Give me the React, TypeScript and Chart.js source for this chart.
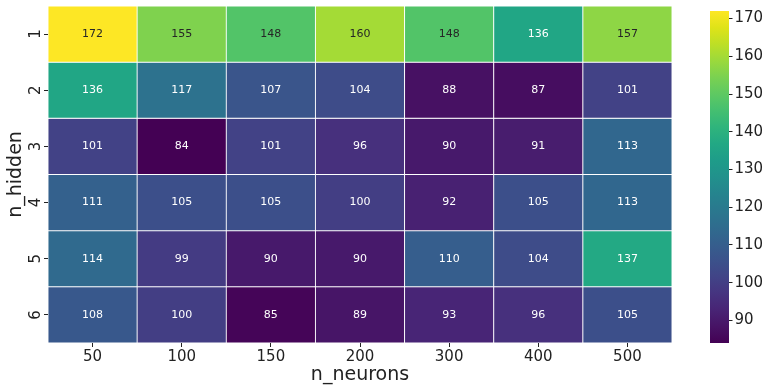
import React, { useEffect, useRef } from 'react';
import { Chart, registerables } from 'chart.js';

Chart.register(...registerables);

// Grid search results: rows = number of hidden layers, columns = neurons per layer
const neurons = ['50', '100', '150', '200', '300', '400', '500'];
const hiddenLayers = [1, 2, 3, 4, 5, 6];
const hidden1 = [172, 155, 148, 160, 148, 136, 157];
const hidden2 = [136, 117, 107, 104, 88, 87, 101];
const hidden3 = [101, 84, 101, 96, 90, 91, 113];
const hidden4 = [111, 105, 105, 100, 92, 105, 113];
const hidden5 = [114, 99, 90, 90, 110, 104, 137];
const hidden6 = [108, 100, 85, 89, 93, 96, 105];
const rows = [hidden1, hidden2, hidden3, hidden4, hidden5, hidden6];
const colorbarTicks = [90, 100, 110, 120, 130, 140, 150, 160, 170];
const vmin = 84;
const vmax = 172;

const FONT = '"DejaVu Sans", "Noto Sans", sans-serif';
const INK = '#222222';

// viridis colormap samples at 0.05 steps
const VIRIDIS = [
  '#440154', '#471365', '#482475', '#463480', '#414487', '#3b528b', '#355f8d',
  '#2f6c8e', '#2a788e', '#25848e', '#21918c', '#1e9c89', '#22a884', '#2fb47c',
  '#44bf70', '#5ec962', '#7ad151', '#9bd93c', '#bddf26', '#dfe318', '#fde725',
];

function hexToRgb(h: string): number[] {
  return [1, 3, 5].map((i) => parseInt(h.slice(i, i + 2), 16));
}

function viridisRgb(t: number): number[] {
  const c = Math.max(0, Math.min(1, t)) * (VIRIDIS.length - 1);
  const i = Math.min(Math.floor(c), VIRIDIS.length - 2);
  const f = c - i;
  const a = hexToRgb(VIRIDIS[i]);
  const b = hexToRgb(VIRIDIS[i + 1]);
  return a.map((v, k) => Math.round(v + (b[k] - v) * f));
}

function colorFor(v: number): string {
  const [r, g, b] = viridisRgb((v - vmin) / (vmax - vmin));
  return `rgb(${r},${g},${b})`;
}

function textColorFor(v: number): string {
  const lin = viridisRgb((v - vmin) / (vmax - vmin)).map((c) => {
    const s = c / 255;
    return s <= 0.03928 ? s / 12.92 : Math.pow((s + 0.055) / 1.055, 2.4);
  });
  const lum = 0.2126 * lin[0] + 0.7152 * lin[1] + 0.0722 * lin[2];
  return lum > 0.408 ? '#262626' : '#ffffff';
}

// cell annotations, rotated y tick labels and axis titles
const heatmapText = {
  id: 'heatmapText',
  afterDatasetsDraw(chart: any) {
    const ctx = chart.ctx as CanvasRenderingContext2D;
    const area = chart.chartArea;
    ctx.save();
    ctx.font = `11px ${FONT}`;
    ctx.textAlign = 'center';
    ctx.textBaseline = 'middle';
    chart.data.datasets.forEach((_ds: any, i: number) => {
      const meta = chart.getDatasetMeta(i);
      meta.data.forEach((el: any, j: number) => {
        const v = rows[i][j];
        const p = el.getCenterPoint();
        ctx.fillStyle = textColorFor(v);
        ctx.fillText(String(v), p.x, p.y);
      });
    });

    const ys = chart.scales.y;
    ctx.fillStyle = INK;
    ctx.font = `15px ${FONT}`;
    ctx.textBaseline = 'alphabetic';
    hiddenLayers.forEach((h) => {
      ctx.save();
      ctx.translate(ys.right - 8, ys.getPixelForValue(h));
      ctx.rotate(-Math.PI / 2);
      ctx.fillText(String(h), 0, 0);
      ctx.restore();
    });

    ctx.font = `19px ${FONT}`;
    ctx.fillText('n_neurons', (area.left + area.right) / 2, 380);
    ctx.save();
    ctx.translate(21, (area.top + area.bottom) / 2);
    ctx.rotate(-Math.PI / 2);
    ctx.fillText('n_hidden', 0, 0);
    ctx.restore();
    ctx.restore();
  },
};

function Heatmap() {
  const ref = useRef<HTMLCanvasElement | null>(null);
  useEffect(() => {
    if (!ref.current) return;
    const chart = new Chart(ref.current, {
      type: 'bar',
      data: {
        labels: neurons,
        datasets: rows.map((vals, i) => ({
          label: `n_hidden ${hiddenLayers[i]}`,
          data: vals.map(() => [hiddenLayers[i] - 0.5, hiddenLayers[i] + 0.5]) as any,
          backgroundColor: vals.map(colorFor),
          borderColor: 'rgba(255,255,255,0.85)',
          borderWidth: 0.8,
          borderSkipped: false,
          grouped: false,
          barPercentage: 1,
          categoryPercentage: 1,
        })),
      },
      options: {
        responsive: false,
        animation: false,
        events: [],
        layout: { padding: { left: 0, top: 6, right: 94, bottom: 0 } },
        plugins: { legend: { display: false }, tooltip: { enabled: false } },
        scales: {
          x: {
            type: 'category',
            offset: true,
            border: { display: false },
            grid: {
              offset: false,
              drawOnChartArea: false,
              drawTicks: true,
              tickLength: 4,
              color: INK,
              tickColor: INK,
            },
            ticks: { color: INK, font: { family: FONT, size: 15 }, padding: 1, maxRotation: 0 },
            afterFit(scale: any) {
              scale.height = 45;
            },
          },
          y: {
            type: 'linear',
            reverse: true,
            min: 0.5,
            max: 6.5,
            border: { display: false },
            grid: {
              drawOnChartArea: false,
              drawTicks: true,
              tickLength: 4,
              color: INK,
              tickColor: INK,
            },
            ticks: { display: false },
            afterBuildTicks(scale: any) {
              scale.ticks = hiddenLayers.map((v) => ({ value: v }));
            },
            afterFit(scale: any) {
              scale.width = 48;
            },
          },
        },
      } as any,
      plugins: [heatmapText],
    });
    return () => chart.destroy();
  }, []);
  return (
    <canvas
      ref={ref}
      width={766}
      height={388}
      style={{ position: 'absolute', left: 0, top: 0, width: 766, height: 388 }}
    />
  );
}

function Colorbar() {
  const ref = useRef<HTMLCanvasElement | null>(null);
  useEffect(() => {
    if (!ref.current) return;
    const chart = new Chart(ref.current, {
      type: 'bar',
      data: {
        labels: ['scale'],
        datasets: [
          {
            data: [[vmin, vmax]] as any,
            backgroundColor: (c: any) => {
              const area = c.chart.chartArea;
              if (!area) return VIRIDIS[0];
              const g = c.chart.ctx.createLinearGradient(0, area.bottom, 0, area.top);
              VIRIDIS.forEach((col, i) => g.addColorStop(i / (VIRIDIS.length - 1), col));
              return g;
            },
            borderWidth: 0,
            barPercentage: 1,
            categoryPercentage: 1,
          },
        ],
      },
      options: {
        responsive: false,
        animation: false,
        events: [],
        layout: { padding: { left: 20, top: 5, right: 0, bottom: 45 } },
        plugins: { legend: { display: false }, tooltip: { enabled: false } },
        scales: {
          x: { display: false },
          y: {
            type: 'linear',
            position: 'right',
            min: vmin,
            max: vmax,
            border: { display: false },
            grid: {
              drawOnChartArea: false,
              drawTicks: true,
              tickLength: 3.5,
              color: INK,
              tickColor: INK,
            },
            ticks: { color: INK, font: { family: FONT, size: 15 }, padding: 2 },
            afterBuildTicks(scale: any) {
              scale.ticks = colorbarTicks.map((v) => ({ value: v }));
            },
            afterFit(scale: any) {
              scale.width = 37;
            },
          },
        },
      } as any,
    });
    return () => chart.destroy();
  }, []);
  return (
    <canvas
      ref={ref}
      width={76}
      height={388}
      style={{ position: 'absolute', left: 690, top: 0, width: 76, height: 388 }}
    />
  );
}

export default function App() {
  return (
    <div
      style={{
        position: 'fixed',
        left: 0,
        top: 0,
        width: 766,
        height: 388,
        background: '#ffffff',
        overflow: 'hidden',
      }}
    >
      <Heatmap />
      <Colorbar />
    </div>
  );
}
